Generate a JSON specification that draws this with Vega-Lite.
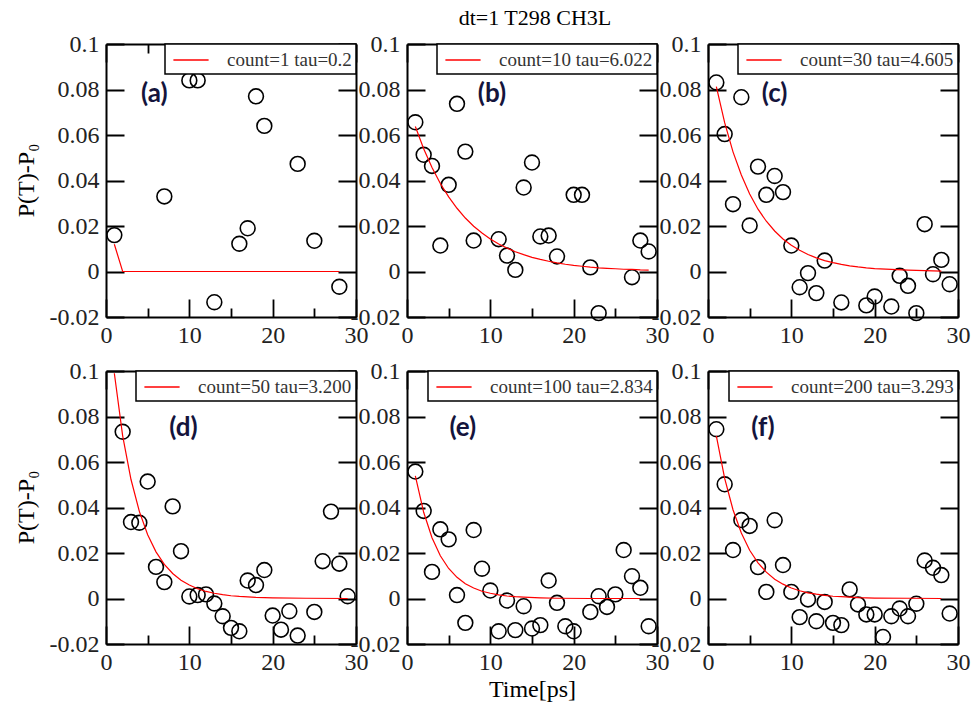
{
  "$schema": "https://vega.github.io/schema/vega-lite/v6.json",
  "autosize": {"type": "pad"},
  "padding": {"left": 13, "top": 7, "right": 5, "bottom": 5},
  "background": "white",
  "title": {"text": "dt=1 T298 CH3L", "font": "Liberation Serif", "fontSize": 22, "fontWeight": "normal", "color": "black", "anchor": "middle", "offset": 2, "dx": 43},
  "datasets": {
    "pts": [
      {"panel": "a", "t": 1, "v": 0.016}, {"panel": "a", "t": 7, "v": 0.033}, {"panel": "a", "t": 10, "v": 0.084}, {"panel": "a", "t": 11, "v": 0.084}, {"panel": "a", "t": 13, "v": -0.0135}, {"panel": "a", "t": 16, "v": 0.0122}, {"panel": "a", "t": 17, "v": 0.019}, {"panel": "a", "t": 18, "v": 0.077}, {"panel": "a", "t": 19, "v": 0.064}, {"panel": "a", "t": 23, "v": 0.0473}, {"panel": "a", "t": 25, "v": 0.0135}, {"panel": "a", "t": 28, "v": -0.0067},
      {"panel": "b", "t": 1, "v": 0.0656}, {"panel": "b", "t": 2, "v": 0.0513}, {"panel": "b", "t": 3, "v": 0.0464}, {"panel": "b", "t": 4, "v": 0.0114}, {"panel": "b", "t": 5, "v": 0.0381}, {"panel": "b", "t": 6, "v": 0.0737}, {"panel": "b", "t": 7, "v": 0.0527}, {"panel": "b", "t": 8, "v": 0.0136}, {"panel": "b", "t": 11, "v": 0.0142}, {"panel": "b", "t": 12, "v": 0.007}, {"panel": "b", "t": 13, "v": 0.0007}, {"panel": "b", "t": 14, "v": 0.0369}, {"panel": "b", "t": 15, "v": 0.0479}, {"panel": "b", "t": 16, "v": 0.0154}, {"panel": "b", "t": 17, "v": 0.0158}, {"panel": "b", "t": 18, "v": 0.0066}, {"panel": "b", "t": 20, "v": 0.0337}, {"panel": "b", "t": 21, "v": 0.0337}, {"panel": "b", "t": 22, "v": 0.0018}, {"panel": "b", "t": 23, "v": -0.0183}, {"panel": "b", "t": 27, "v": -0.0025}, {"panel": "b", "t": 28, "v": 0.0136}, {"panel": "b", "t": 29, "v": 0.0088},
      {"panel": "c", "t": 1, "v": 0.0831}, {"panel": "c", "t": 2, "v": 0.0604}, {"panel": "c", "t": 3, "v": 0.0296}, {"panel": "c", "t": 4, "v": 0.0766}, {"panel": "c", "t": 5, "v": 0.0202}, {"panel": "c", "t": 6, "v": 0.0461}, {"panel": "c", "t": 7, "v": 0.0337}, {"panel": "c", "t": 8, "v": 0.042}, {"panel": "c", "t": 9, "v": 0.0349}, {"panel": "c", "t": 10, "v": 0.0114}, {"panel": "c", "t": 11, "v": -0.0069}, {"panel": "c", "t": 12, "v": -0.0007}, {"panel": "c", "t": 13, "v": -0.0095}, {"panel": "c", "t": 14, "v": 0.0048}, {"panel": "c", "t": 16, "v": -0.0136}, {"panel": "c", "t": 19, "v": -0.0149}, {"panel": "c", "t": 20, "v": -0.011}, {"panel": "c", "t": 22, "v": -0.0154}, {"panel": "c", "t": 23, "v": -0.0019}, {"panel": "c", "t": 24, "v": -0.0063}, {"panel": "c", "t": 25, "v": -0.0183}, {"panel": "c", "t": 26, "v": 0.0208}, {"panel": "c", "t": 27, "v": -0.0012}, {"panel": "c", "t": 28, "v": 0.0051}, {"panel": "c", "t": 29, "v": -0.0056},
      {"panel": "d", "t": 2, "v": 0.0733}, {"panel": "d", "t": 3, "v": 0.0336}, {"panel": "d", "t": 4, "v": 0.0333}, {"panel": "d", "t": 5, "v": 0.0514}, {"panel": "d", "t": 6, "v": 0.0139}, {"panel": "d", "t": 7, "v": 0.0072}, {"panel": "d", "t": 8, "v": 0.0405}, {"panel": "d", "t": 9, "v": 0.0208}, {"panel": "d", "t": 10, "v": 0.0009}, {"panel": "d", "t": 11, "v": 0.0015}, {"panel": "d", "t": 12, "v": 0.0018}, {"panel": "d", "t": 13, "v": -0.0022}, {"panel": "d", "t": 14, "v": -0.0078}, {"panel": "d", "t": 15, "v": -0.0129}, {"panel": "d", "t": 16, "v": -0.0144}, {"panel": "d", "t": 17, "v": 0.0079}, {"panel": "d", "t": 18, "v": 0.0059}, {"panel": "d", "t": 19, "v": 0.0125}, {"panel": "d", "t": 20, "v": -0.0075}, {"panel": "d", "t": 21, "v": -0.0137}, {"panel": "d", "t": 22, "v": -0.0056}, {"panel": "d", "t": 23, "v": -0.0163}, {"panel": "d", "t": 25, "v": -0.0059}, {"panel": "d", "t": 26, "v": 0.0164}, {"panel": "d", "t": 27, "v": 0.0382}, {"panel": "d", "t": 28, "v": 0.0153}, {"panel": "d", "t": 29, "v": 0.001},
      {"panel": "e", "t": 1, "v": 0.0558}, {"panel": "e", "t": 2, "v": 0.0385}, {"panel": "e", "t": 3, "v": 0.0117}, {"panel": "e", "t": 4, "v": 0.0304}, {"panel": "e", "t": 5, "v": 0.026}, {"panel": "e", "t": 6, "v": 0.0015}, {"panel": "e", "t": 7, "v": -0.0107}, {"panel": "e", "t": 8, "v": 0.0301}, {"panel": "e", "t": 9, "v": 0.0131}, {"panel": "e", "t": 10, "v": 0.0035}, {"panel": "e", "t": 11, "v": -0.0144}, {"panel": "e", "t": 12, "v": -0.0009}, {"panel": "e", "t": 13, "v": -0.0139}, {"panel": "e", "t": 14, "v": -0.0034}, {"panel": "e", "t": 15, "v": -0.0132}, {"panel": "e", "t": 16, "v": -0.0117}, {"panel": "e", "t": 17, "v": 0.0079}, {"panel": "e", "t": 18, "v": -0.0019}, {"panel": "e", "t": 19, "v": -0.0122}, {"panel": "e", "t": 20, "v": -0.0144}, {"panel": "e", "t": 22, "v": -0.0059}, {"panel": "e", "t": 23, "v": 0.001}, {"panel": "e", "t": 24, "v": -0.0037}, {"panel": "e", "t": 25, "v": 0.0018}, {"panel": "e", "t": 26, "v": 0.0213}, {"panel": "e", "t": 27, "v": 0.0098}, {"panel": "e", "t": 28, "v": 0.0047}, {"panel": "e", "t": 29, "v": -0.0122},
      {"panel": "f", "t": 1, "v": 0.0744}, {"panel": "f", "t": 2, "v": 0.0502}, {"panel": "f", "t": 3, "v": 0.0213}, {"panel": "f", "t": 4, "v": 0.0345}, {"panel": "f", "t": 5, "v": 0.0319}, {"panel": "f", "t": 6, "v": 0.0138}, {"panel": "f", "t": 7, "v": 0.0029}, {"panel": "f", "t": 8, "v": 0.0344}, {"panel": "f", "t": 9, "v": 0.0147}, {"panel": "f", "t": 10, "v": 0.0029}, {"panel": "f", "t": 11, "v": -0.0082}, {"panel": "f", "t": 12, "v": -0.0004}, {"panel": "f", "t": 13, "v": -0.01}, {"panel": "f", "t": 14, "v": -0.0015}, {"panel": "f", "t": 15, "v": -0.0107}, {"panel": "f", "t": 16, "v": -0.0117}, {"panel": "f", "t": 17, "v": 0.004}, {"panel": "f", "t": 18, "v": -0.0026}, {"panel": "f", "t": 19, "v": -0.007}, {"panel": "f", "t": 20, "v": -0.007}, {"panel": "f", "t": 21, "v": -0.0169}, {"panel": "f", "t": 22, "v": -0.0078}, {"panel": "f", "t": 23, "v": -0.0044}, {"panel": "f", "t": 24, "v": -0.0078}, {"panel": "f", "t": 25, "v": -0.0023}, {"panel": "f", "t": 26, "v": 0.0167}, {"panel": "f", "t": 27, "v": 0.0135}, {"panel": "f", "t": 28, "v": 0.0103}, {"panel": "f", "t": 29, "v": -0.0066}
    ],
    "fit": [
      {"panel": "a", "t": 1, "v": 0.012}, {"panel": "a", "t": 2, "v": 0}, {"panel": "a", "t": 28, "v": 0},
      {"panel": "b", "t": 1, "v": 0.0637}, {"panel": "b", "t": 2, "v": 0.054}, {"panel": "b", "t": 3, "v": 0.0457}, {"panel": "b", "t": 4, "v": 0.0387}, {"panel": "b", "t": 5, "v": 0.0328}, {"panel": "b", "t": 6, "v": 0.0278}, {"panel": "b", "t": 7, "v": 0.0235}, {"panel": "b", "t": 8, "v": 0.0199}, {"panel": "b", "t": 9, "v": 0.0169}, {"panel": "b", "t": 10, "v": 0.0143}, {"panel": "b", "t": 11, "v": 0.0121}, {"panel": "b", "t": 12, "v": 0.0103}, {"panel": "b", "t": 13, "v": 0.0087}, {"panel": "b", "t": 14, "v": 0.0074}, {"panel": "b", "t": 15, "v": 0.0062}, {"panel": "b", "t": 16, "v": 0.0053}, {"panel": "b", "t": 17, "v": 0.0045}, {"panel": "b", "t": 18, "v": 0.0038}, {"panel": "b", "t": 19, "v": 0.0032}, {"panel": "b", "t": 20, "v": 0.0027}, {"panel": "b", "t": 21, "v": 0.0023}, {"panel": "b", "t": 22, "v": 0.0019}, {"panel": "b", "t": 23, "v": 0.0016}, {"panel": "b", "t": 24, "v": 0.0014}, {"panel": "b", "t": 25, "v": 0.0012}, {"panel": "b", "t": 26, "v": 0.001}, {"panel": "b", "t": 27, "v": 0.0009}, {"panel": "b", "t": 28, "v": 0.0007}, {"panel": "b", "t": 29, "v": 0.0006},
      {"panel": "c", "t": 1, "v": 0.0813}, {"panel": "c", "t": 2, "v": 0.0654}, {"panel": "c", "t": 3, "v": 0.0526}, {"panel": "c", "t": 4, "v": 0.0424}, {"panel": "c", "t": 5, "v": 0.0341}, {"panel": "c", "t": 6, "v": 0.0274}, {"panel": "c", "t": 7, "v": 0.0221}, {"panel": "c", "t": 8, "v": 0.0178}, {"panel": "c", "t": 9, "v": 0.0143}, {"panel": "c", "t": 10, "v": 0.0115}, {"panel": "c", "t": 11, "v": 0.0093}, {"panel": "c", "t": 12, "v": 0.0075}, {"panel": "c", "t": 13, "v": 0.006}, {"panel": "c", "t": 14, "v": 0.0048}, {"panel": "c", "t": 15, "v": 0.0039}, {"panel": "c", "t": 16, "v": 0.0031}, {"panel": "c", "t": 17, "v": 0.0025}, {"panel": "c", "t": 18, "v": 0.002}, {"panel": "c", "t": 19, "v": 0.0016}, {"panel": "c", "t": 20, "v": 0.0013}, {"panel": "c", "t": 22, "v": 0.0009}, {"panel": "c", "t": 24, "v": 0.0006}, {"panel": "c", "t": 26, "v": 0.0004}, {"panel": "c", "t": 28, "v": 0.0002},
      {"panel": "d", "t": 1, "v": 0.099}, {"panel": "d", "t": 2, "v": 0.0715}, {"panel": "d", "t": 3, "v": 0.0523}, {"panel": "d", "t": 4, "v": 0.0383}, {"panel": "d", "t": 5, "v": 0.028}, {"panel": "d", "t": 6, "v": 0.0205}, {"panel": "d", "t": 7, "v": 0.015}, {"panel": "d", "t": 8, "v": 0.011}, {"panel": "d", "t": 9, "v": 0.008}, {"panel": "d", "t": 10, "v": 0.0059}, {"panel": "d", "t": 11, "v": 0.0043}, {"panel": "d", "t": 12, "v": 0.0031}, {"panel": "d", "t": 13, "v": 0.0023}, {"panel": "d", "t": 14, "v": 0.0017}, {"panel": "d", "t": 15, "v": 0.0012}, {"panel": "d", "t": 16, "v": 0.0009}, {"panel": "d", "t": 18, "v": 0.0005}, {"panel": "d", "t": 20, "v": 0.0003}, {"panel": "d", "t": 24, "v": 0.0001}, {"panel": "d", "t": 29, "v": 0},
      {"panel": "e", "t": 1, "v": 0.0539}, {"panel": "e", "t": 2, "v": 0.0379}, {"panel": "e", "t": 3, "v": 0.0267}, {"panel": "e", "t": 4, "v": 0.0188}, {"panel": "e", "t": 5, "v": 0.0132}, {"panel": "e", "t": 6, "v": 0.0093}, {"panel": "e", "t": 7, "v": 0.0065}, {"panel": "e", "t": 8, "v": 0.0046}, {"panel": "e", "t": 9, "v": 0.0032}, {"panel": "e", "t": 10, "v": 0.0023}, {"panel": "e", "t": 11, "v": 0.0016}, {"panel": "e", "t": 12, "v": 0.0011}, {"panel": "e", "t": 13, "v": 0.0008}, {"panel": "e", "t": 14, "v": 0.0006}, {"panel": "e", "t": 16, "v": 0.0003}, {"panel": "e", "t": 18, "v": 0.0001}, {"panel": "e", "t": 22, "v": 0}, {"panel": "e", "t": 28, "v": 0},
      {"panel": "f", "t": 1, "v": 0.0715}, {"panel": "f", "t": 2, "v": 0.0528}, {"panel": "f", "t": 3, "v": 0.039}, {"panel": "f", "t": 4, "v": 0.0288}, {"panel": "f", "t": 5, "v": 0.0212}, {"panel": "f", "t": 6, "v": 0.0157}, {"panel": "f", "t": 7, "v": 0.0116}, {"panel": "f", "t": 8, "v": 0.0085}, {"panel": "f", "t": 9, "v": 0.0063}, {"panel": "f", "t": 10, "v": 0.0046}, {"panel": "f", "t": 11, "v": 0.0034}, {"panel": "f", "t": 12, "v": 0.0025}, {"panel": "f", "t": 13, "v": 0.0019}, {"panel": "f", "t": 14, "v": 0.0014}, {"panel": "f", "t": 15, "v": 0.001}, {"panel": "f", "t": 16, "v": 0.0008}, {"panel": "f", "t": 18, "v": 0.0004}, {"panel": "f", "t": 20, "v": 0.0002}, {"panel": "f", "t": 24, "v": 0.0001}, {"panel": "f", "t": 28, "v": 0}
    ]
  },
  "columns": 3,
  "spacing": {"row": 54, "column": 51},
  "bounds": "flush",
  "resolve": {"scale": {"color": "independent"}},
  "concat": [
    {
      "width": 250, "height": 273,
      "layer": [
        {"data": {"name": "pts"}, "transform": [{"filter": "datum.panel === 'a'"}],
         "mark": {"type": "point", "shape": "circle", "filled": false, "stroke": "black", "strokeWidth": 1.6, "size": 220, "opacity": 1},
         "encoding": {
           "x": {"field": "t", "type": "quantitative", "scale": {"domain": [0, 30], "nice": false}, "axis": {"orient": "bottom", "values": [0, 5, 10, 15, 20, 25, 30], "labelExpr": "datum.value % 10 === 0 ? datum.label : ''", "gridDash": {"condition": {"test": "datum.value % 10 !== 0", "value": [9, 255, 9]}, "value": [18, 237, 18]}, "labelPadding": 6, "title": null}},
           "y": {"field": "v", "type": "quantitative", "scale": {"domain": [-0.02, 0.1], "nice": false, "zero": false}, "axis": {"orient": "left", "values": [-0.02, 0, 0.02, 0.04, 0.06, 0.08, 0.1], "labelExpr": "'' + datum.value", "labelPadding": 7, "title": "P(T)-P₀", "titleX": -80, "titleY": 136, "titleAngle": -90, "titleAlign": "center", "titleBaseline": "middle"}}
         }},
        {"data": {"name": "fit"}, "transform": [{"filter": "datum.panel === 'a'"}],
         "mark": {"type": "line", "strokeWidth": 1.2},
         "encoding": {
           "x": {"field": "t", "type": "quantitative", "axis": {"orient": "top", "values": [0, 5, 10, 15, 20, 25, 30], "labels": false, "gridDash": {"condition": {"test": "datum.value % 10 !== 0", "value": [9, 255, 9]}, "value": [18, 237, 18]}, "title": null}},
           "y": {"field": "v", "type": "quantitative", "axis": {"orient": "right", "values": [-0.02, 0, 0.02, 0.04, 0.06, 0.08, 0.1], "labels": false, "title": null}},
           "color": {"datum": "count=1 tau=0.2", "scale": {"range": ["#ff0000"]}, "legend": {"title": null}}
         }},
        {"data": {"values": [{}]},
         "mark": {"type": "text", "text": "(a)", "font": "Lato", "fontSize": 26, "fontWeight": "bold", "color": "#14143c", "align": "center", "baseline": "middle"},
         "encoding": {"x": {"datum": 5.8, "type": "quantitative", "axis": null}, "y": {"datum": 0.078, "type": "quantitative", "axis": null}}}
      ],
      "resolve": {"axis": {"x": "independent", "y": "independent"}}
    },
    {
      "width": 250, "height": 273,
      "layer": [
        {"data": {"name": "pts"}, "transform": [{"filter": "datum.panel === 'b'"}],
         "mark": {"type": "point", "shape": "circle", "filled": false, "stroke": "black", "strokeWidth": 1.6, "size": 220, "opacity": 1},
         "encoding": {
           "x": {"field": "t", "type": "quantitative", "scale": {"domain": [0, 30], "nice": false}, "axis": {"orient": "bottom", "values": [0, 5, 10, 15, 20, 25, 30], "labelExpr": "datum.value % 10 === 0 ? datum.label : ''", "gridDash": {"condition": {"test": "datum.value % 10 !== 0", "value": [9, 255, 9]}, "value": [18, 237, 18]}, "labelPadding": 6, "title": null}},
           "y": {"field": "v", "type": "quantitative", "scale": {"domain": [-0.02, 0.1], "nice": false, "zero": false}, "axis": {"orient": "left", "values": [-0.02, 0, 0.02, 0.04, 0.06, 0.08, 0.1], "labelExpr": "'' + datum.value", "labelPadding": 7, "title": null}}
         }},
        {"data": {"name": "fit"}, "transform": [{"filter": "datum.panel === 'b'"}],
         "mark": {"type": "line", "strokeWidth": 1.2},
         "encoding": {
           "x": {"field": "t", "type": "quantitative", "axis": {"orient": "top", "values": [0, 5, 10, 15, 20, 25, 30], "labels": false, "gridDash": {"condition": {"test": "datum.value % 10 !== 0", "value": [9, 255, 9]}, "value": [18, 237, 18]}, "title": null}},
           "y": {"field": "v", "type": "quantitative", "axis": {"orient": "right", "values": [-0.02, 0, 0.02, 0.04, 0.06, 0.08, 0.1], "labels": false, "title": null}},
           "color": {"datum": "count=10 tau=6.022", "scale": {"range": ["#ff0000"]}, "legend": {"title": null}}
         }},
        {"data": {"values": [{}]},
         "mark": {"type": "text", "text": "(b)", "font": "Lato", "fontSize": 26, "fontWeight": "bold", "color": "#14143c", "align": "center", "baseline": "middle"},
         "encoding": {"x": {"datum": 10.2, "type": "quantitative", "axis": null}, "y": {"datum": 0.078, "type": "quantitative", "axis": null}}}
      ],
      "resolve": {"axis": {"x": "independent", "y": "independent"}}
    },
    {
      "width": 250, "height": 273,
      "layer": [
        {"data": {"name": "pts"}, "transform": [{"filter": "datum.panel === 'c'"}],
         "mark": {"type": "point", "shape": "circle", "filled": false, "stroke": "black", "strokeWidth": 1.6, "size": 220, "opacity": 1},
         "encoding": {
           "x": {"field": "t", "type": "quantitative", "scale": {"domain": [0, 30], "nice": false}, "axis": {"orient": "bottom", "values": [0, 5, 10, 15, 20, 25, 30], "labelExpr": "datum.value % 10 === 0 ? datum.label : ''", "gridDash": {"condition": {"test": "datum.value % 10 !== 0", "value": [9, 255, 9]}, "value": [18, 237, 18]}, "labelPadding": 6, "title": null}},
           "y": {"field": "v", "type": "quantitative", "scale": {"domain": [-0.02, 0.1], "nice": false, "zero": false}, "axis": {"orient": "left", "values": [-0.02, 0, 0.02, 0.04, 0.06, 0.08, 0.1], "labelExpr": "'' + datum.value", "labelPadding": 7, "title": null}}
         }},
        {"data": {"name": "fit"}, "transform": [{"filter": "datum.panel === 'c'"}],
         "mark": {"type": "line", "strokeWidth": 1.2},
         "encoding": {
           "x": {"field": "t", "type": "quantitative", "axis": {"orient": "top", "values": [0, 5, 10, 15, 20, 25, 30], "labels": false, "gridDash": {"condition": {"test": "datum.value % 10 !== 0", "value": [9, 255, 9]}, "value": [18, 237, 18]}, "title": null}},
           "y": {"field": "v", "type": "quantitative", "axis": {"orient": "right", "values": [-0.02, 0, 0.02, 0.04, 0.06, 0.08, 0.1], "labels": false, "title": null}},
           "color": {"datum": "count=30 tau=4.605", "scale": {"range": ["#ff0000"]}, "legend": {"title": null}}
         }},
        {"data": {"values": [{}]},
         "mark": {"type": "text", "text": "(c)", "font": "Lato", "fontSize": 26, "fontWeight": "bold", "color": "#14143c", "align": "center", "baseline": "middle"},
         "encoding": {"x": {"datum": 8.0, "type": "quantitative", "axis": null}, "y": {"datum": 0.078, "type": "quantitative", "axis": null}}}
      ],
      "resolve": {"axis": {"x": "independent", "y": "independent"}}
    },
    {
      "width": 250, "height": 273,
      "layer": [
        {"data": {"name": "pts"}, "transform": [{"filter": "datum.panel === 'd'"}],
         "mark": {"type": "point", "shape": "circle", "filled": false, "stroke": "black", "strokeWidth": 1.6, "size": 220, "opacity": 1},
         "encoding": {
           "x": {"field": "t", "type": "quantitative", "scale": {"domain": [0, 30], "nice": false}, "axis": {"orient": "bottom", "values": [0, 5, 10, 15, 20, 25, 30], "labelExpr": "datum.value % 10 === 0 ? datum.label : ''", "gridDash": {"condition": {"test": "datum.value % 10 !== 0", "value": [9, 255, 9]}, "value": [18, 237, 18]}, "labelPadding": 6, "title": null}},
           "y": {"field": "v", "type": "quantitative", "scale": {"domain": [-0.02, 0.1], "nice": false, "zero": false}, "axis": {"orient": "left", "values": [-0.02, 0, 0.02, 0.04, 0.06, 0.08, 0.1], "labelExpr": "'' + datum.value", "labelPadding": 7, "title": "P(T)-P₀", "titleX": -80, "titleY": 136, "titleAngle": -90, "titleAlign": "center", "titleBaseline": "middle"}}
         }},
        {"data": {"name": "fit"}, "transform": [{"filter": "datum.panel === 'd'"}],
         "mark": {"type": "line", "strokeWidth": 1.2},
         "encoding": {
           "x": {"field": "t", "type": "quantitative", "axis": {"orient": "top", "values": [0, 5, 10, 15, 20, 25, 30], "labels": false, "gridDash": {"condition": {"test": "datum.value % 10 !== 0", "value": [9, 255, 9]}, "value": [18, 237, 18]}, "title": null}},
           "y": {"field": "v", "type": "quantitative", "axis": {"orient": "right", "values": [-0.02, 0, 0.02, 0.04, 0.06, 0.08, 0.1], "labels": false, "title": null}},
           "color": {"datum": "count=50 tau=3.200", "scale": {"range": ["#ff0000"]}, "legend": {"title": null}}
         }},
        {"data": {"values": [{}]},
         "mark": {"type": "text", "text": "(d)", "font": "Lato", "fontSize": 26, "fontWeight": "bold", "color": "#14143c", "align": "center", "baseline": "middle"},
         "encoding": {"x": {"datum": 9.3, "type": "quantitative", "axis": null}, "y": {"datum": 0.075, "type": "quantitative", "axis": null}}}
      ],
      "resolve": {"axis": {"x": "independent", "y": "independent"}}
    },
    {
      "width": 250, "height": 273,
      "layer": [
        {"data": {"name": "pts"}, "transform": [{"filter": "datum.panel === 'e'"}],
         "mark": {"type": "point", "shape": "circle", "filled": false, "stroke": "black", "strokeWidth": 1.6, "size": 220, "opacity": 1},
         "encoding": {
           "x": {"field": "t", "type": "quantitative", "scale": {"domain": [0, 30], "nice": false}, "axis": {"orient": "bottom", "values": [0, 5, 10, 15, 20, 25, 30], "labelExpr": "datum.value % 10 === 0 ? datum.label : ''", "gridDash": {"condition": {"test": "datum.value % 10 !== 0", "value": [9, 255, 9]}, "value": [18, 237, 18]}, "labelPadding": 6, "title": "Time[ps]", "titleX": 125, "titleY": 45, "titleAlign": "center", "titleBaseline": "middle"}},
           "y": {"field": "v", "type": "quantitative", "scale": {"domain": [-0.02, 0.1], "nice": false, "zero": false}, "axis": {"orient": "left", "values": [-0.02, 0, 0.02, 0.04, 0.06, 0.08, 0.1], "labelExpr": "'' + datum.value", "labelPadding": 7, "title": null}}
         }},
        {"data": {"name": "fit"}, "transform": [{"filter": "datum.panel === 'e'"}],
         "mark": {"type": "line", "strokeWidth": 1.2},
         "encoding": {
           "x": {"field": "t", "type": "quantitative", "axis": {"orient": "top", "values": [0, 5, 10, 15, 20, 25, 30], "labels": false, "gridDash": {"condition": {"test": "datum.value % 10 !== 0", "value": [9, 255, 9]}, "value": [18, 237, 18]}, "title": null}},
           "y": {"field": "v", "type": "quantitative", "axis": {"orient": "right", "values": [-0.02, 0, 0.02, 0.04, 0.06, 0.08, 0.1], "labels": false, "title": null}},
           "color": {"datum": "count=100 tau=2.834", "scale": {"range": ["#ff0000"]}, "legend": {"title": null}}
         }},
        {"data": {"values": [{}]},
         "mark": {"type": "text", "text": "(e)", "font": "Lato", "fontSize": 26, "fontWeight": "bold", "color": "#14143c", "align": "center", "baseline": "middle"},
         "encoding": {"x": {"datum": 6.7, "type": "quantitative", "axis": null}, "y": {"datum": 0.075, "type": "quantitative", "axis": null}}}
      ],
      "resolve": {"axis": {"x": "independent", "y": "independent"}}
    },
    {
      "width": 250, "height": 273,
      "layer": [
        {"data": {"name": "pts"}, "transform": [{"filter": "datum.panel === 'f'"}],
         "mark": {"type": "point", "shape": "circle", "filled": false, "stroke": "black", "strokeWidth": 1.6, "size": 220, "opacity": 1},
         "encoding": {
           "x": {"field": "t", "type": "quantitative", "scale": {"domain": [0, 30], "nice": false}, "axis": {"orient": "bottom", "values": [0, 5, 10, 15, 20, 25, 30], "labelExpr": "datum.value % 10 === 0 ? datum.label : ''", "gridDash": {"condition": {"test": "datum.value % 10 !== 0", "value": [9, 255, 9]}, "value": [18, 237, 18]}, "labelPadding": 6, "title": null}},
           "y": {"field": "v", "type": "quantitative", "scale": {"domain": [-0.02, 0.1], "nice": false, "zero": false}, "axis": {"orient": "left", "values": [-0.02, 0, 0.02, 0.04, 0.06, 0.08, 0.1], "labelExpr": "'' + datum.value", "labelPadding": 7, "title": null}}
         }},
        {"data": {"name": "fit"}, "transform": [{"filter": "datum.panel === 'f'"}],
         "mark": {"type": "line", "strokeWidth": 1.2},
         "encoding": {
           "x": {"field": "t", "type": "quantitative", "axis": {"orient": "top", "values": [0, 5, 10, 15, 20, 25, 30], "labels": false, "gridDash": {"condition": {"test": "datum.value % 10 !== 0", "value": [9, 255, 9]}, "value": [18, 237, 18]}, "title": null}},
           "y": {"field": "v", "type": "quantitative", "axis": {"orient": "right", "values": [-0.02, 0, 0.02, 0.04, 0.06, 0.08, 0.1], "labels": false, "title": null}},
           "color": {"datum": "count=200 tau=3.293", "scale": {"range": ["#ff0000"]}, "legend": {"title": null}}
         }},
        {"data": {"values": [{}]},
         "mark": {"type": "text", "text": "(f)", "font": "Lato", "fontSize": 26, "fontWeight": "bold", "color": "#14143c", "align": "center", "baseline": "middle"},
         "encoding": {"x": {"datum": 6.6, "type": "quantitative", "axis": null}, "y": {"datum": 0.075, "type": "quantitative", "axis": null}}}
      ],
      "resolve": {"axis": {"x": "independent", "y": "independent"}}
    }
  ],
  "config": {
    "view": {"stroke": null},
    "font": "Liberation Serif",
    "axis": {"grid": true, "gridColor": "black", "gridWidth": 1.8, "gridOpacity": 1, "gridDash": [18, 214, 18], "ticks": false, "tickSize": 0, "domainColor": "black", "domainWidth": 2, "labelFont": "Liberation Serif", "labelFontSize": 24, "labelColor": "#222222", "labelFlush": false, "labelOverlap": false, "labelBound": false, "titleFont": "Liberation Serif", "titleFontSize": 24, "titleFontWeight": "normal", "titleColor": "black"},
    "legend": {"orient": "top-right", "offset": 0, "strokeColor": "black", "strokeWidth": 1.5, "fillColor": "white", "padding": 4, "symbolType": "M-1.6,0H1.6", "symbolSize": 484, "symbolOffset": 10, "symbolStrokeWidth": 1.3, "symbolFillColor": "transparent", "labelFont": "Liberation Serif", "labelFontSize": 19, "labelColor": "#333333", "labelOffset": 24, "labelLimit": 0}
  }
}
